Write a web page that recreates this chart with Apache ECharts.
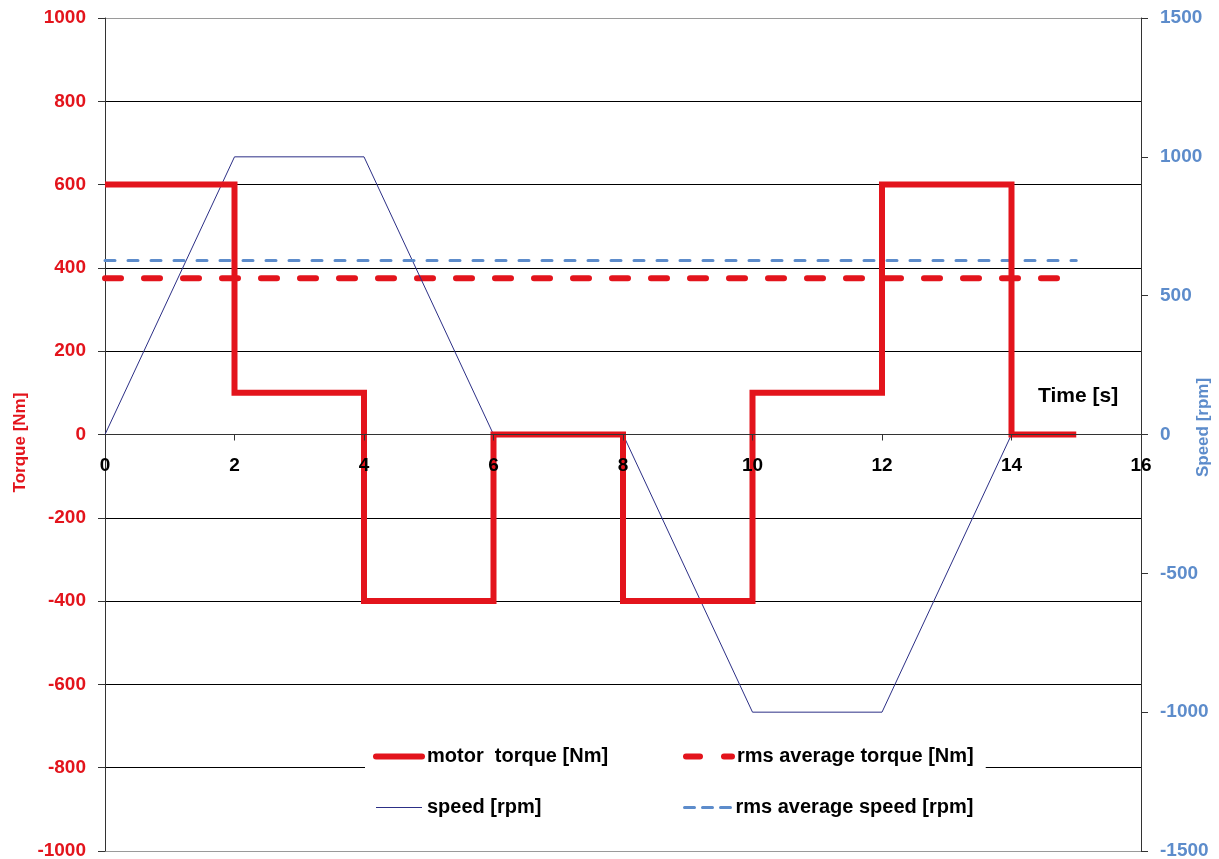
<!DOCTYPE html>
<html>
<head>
<meta charset="utf-8">
<script src="https://cdn.jsdelivr.net/npm/echarts@6/dist/echarts.min.js"></script>
<style>html,body{margin:0;padding:0;background:#fff}#c{width:1219px;height:859px}</style>
</head>
<body>
<div id="c"></div>
<script>
// Time breakpoints [s] and motor torque held from each breakpoint [Nm]
const torqueTime = [0, 2, 4, 6, 8, 10, 12, 14, 15];
const torqueValues = [600, 100, -400, 0, -400, 100, 600, 0, 0];
// Speed profile [rpm]
const speedTime = [0, 2, 4, 6, 8, 10, 12, 14];
const speedValues = [0, 1000, 1000, 0, 0, -1000, -1000, 0];
// RMS averages
const rmsTime = [0, 15];
const rmsTorque = 375;
const rmsSpeed = 627;
// Axes
const xTicks = {min: 0, max: 16, interval: 2};
const torqueAxis = {min: -1000, max: 1000, interval: 200};
const speedAxis = {min: -1500, max: 1500, interval: 500};
const seriesNames = ['motor  torque [Nm]', 'rms average torque [Nm]', 'speed [rpm]', 'rms average speed [rpm]'];

const FONT = '"Liberation Sans", Arial, sans-serif';
const RED = '#e3141c';
const BLUE = '#5d8ccb';
const NAVY = '#2c2f86';

const GRID_TOP = 18, GRID_BOTTOM = 8, H = 859;
const plotH = H - GRID_TOP - GRID_BOTTOM;
// x-axis crosses at torque = 0: shift the bottom axis up to the zero line
const zeroShift = plotH * (0 - torqueAxis.min) / (torqueAxis.max - torqueAxis.min);

const chart = echarts.init(document.getElementById('c'), null, {renderer: 'canvas'});
const gridColors = [];
for (let v = torqueAxis.min; v <= torqueAxis.max; v += torqueAxis.interval) {
  gridColors.push((v === torqueAxis.min || v === torqueAxis.max) ? '#9a9a9a' : '#000');
}
const plain = v => String(v);

const torqueStyle = {color: RED, width: 6, cap: 'butt', join: 'miter'};
const rmsTorqueStyle = {color: RED, width: 6, type: [16, 23], cap: 'round'};
const speedStyle = {color: NAVY, width: 1};
const rmsSpeedStyle = {color: BLUE, width: 3, type: [10, 13], cap: 'round'};

chart.setOption({
  backgroundColor: '#fff',
  animation: false,
  grid: {left: 105, right: 78, top: GRID_TOP, bottom: GRID_BOTTOM, containLabel: false, outerBoundsMode: 'none'},
  legend: {
    data: [
      {name: seriesNames[0], itemStyle: {opacity: 0}, lineStyle: {color: RED, width: 6, cap: 'round'}},
      {name: seriesNames[1], itemStyle: {opacity: 0}, lineStyle: {color: RED, width: 6, type: [14, 24], cap: 'round'}},
      {name: seriesNames[2], itemStyle: {opacity: 0}, lineStyle: {color: NAVY, width: 1}},
      {name: seriesNames[3], itemStyle: {opacity: 0}, lineStyle: {color: BLUE, width: 3, type: [10, 8]}}
    ],
    left: 365, top: 736,
    width: 620,
    padding: [5, 12, 4, 8],
    backgroundColor: '#fff',
    itemWidth: 46, itemHeight: 14, itemGap: 20,
    textStyle: {fontFamily: FONT, fontWeight: 'bold', fontSize: 20, color: '#000', width: 236, overflow: 'none', lineHeight: 31}
  },
  xAxis: {
    type: 'value', min: xTicks.min, max: xTicks.max, interval: xTicks.interval,
    position: 'bottom', offset: -zeroShift, z: 10,
    axisLine: {show: true, onZero: false, lineStyle: {color: '#333', width: 1}},
    axisTick: {show: true, length: 6, lineStyle: {color: '#333'}},
    axisLabel: {show: true, fontFamily: FONT, fontWeight: 'bold', fontSize: 19, color: '#000', margin: 22, formatter: plain},
    splitLine: {show: false}
  },
  yAxis: [
    {
      type: 'value', min: torqueAxis.min, max: torqueAxis.max, interval: torqueAxis.interval,
      position: 'left',
      name: 'Torque [Nm]', nameLocation: 'middle', nameGap: 76, nameRotate: 90, nameMoveOverlap: false,
      nameTextStyle: {fontFamily: FONT, fontWeight: 'bold', fontSize: 17, color: RED, padding: [0, 16, 0, 0]},
      axisLine: {show: true, lineStyle: {color: '#333'}},
      axisTick: {show: true, length: 7, lineStyle: {color: '#333'}},
      axisLabel: {fontFamily: FONT, fontWeight: 'bold', fontSize: 19, color: RED, margin: 19, formatter: plain},
      splitLine: {show: true, lineStyle: {color: gridColors, width: 1}}
    },
    {
      type: 'value', min: speedAxis.min, max: speedAxis.max, interval: speedAxis.interval,
      position: 'right',
      name: 'Speed [rpm]', nameLocation: 'middle', nameGap: 54, nameRotate: 90, nameMoveOverlap: false,
      nameTextStyle: {fontFamily: FONT, fontWeight: 'bold', fontSize: 17, color: BLUE, padding: [0, 0, 0, 14]},
      axisLine: {show: true, lineStyle: {color: '#333'}},
      axisTick: {show: true, length: 7, lineStyle: {color: '#333'}},
      axisLabel: {fontFamily: FONT, fontWeight: 'bold', fontSize: 19, color: BLUE, margin: 19, formatter: plain},
      splitLine: {show: false}
    }
  ],
  graphic: [{
    type: 'text', left: 1038, top: 386,
    style: {text: 'Time [s]', font: 'bold 21px ' + FONT, fill: '#000'}
  }],
  series: [
    {
      name: seriesNames[0], type: 'line', step: 'end', yAxisIndex: 0,
      symbol: 'none', showSymbol: false, z: 4,
      data: torqueTime.map((t, i) => [t, torqueValues[i]]),
      lineStyle: torqueStyle, itemStyle: {color: RED}
    },
    {
      name: seriesNames[1], type: 'line', yAxisIndex: 0,
      symbol: 'none', showSymbol: false, z: 3,
      data: rmsTime.map(t => [t, rmsTorque]),
      lineStyle: rmsTorqueStyle, itemStyle: {color: RED}
    },
    {
      name: seriesNames[2], type: 'line', yAxisIndex: 1,
      symbol: 'none', showSymbol: false, z: 3,
      data: speedTime.map((t, i) => [t, speedValues[i]]),
      lineStyle: speedStyle, itemStyle: {color: NAVY}
    },
    {
      name: seriesNames[3], type: 'line', yAxisIndex: 1,
      symbol: 'none', showSymbol: false, z: 3,
      data: rmsTime.map(t => [t, rmsSpeed]),
      lineStyle: rmsSpeedStyle, itemStyle: {color: BLUE}
    }
  ]
});
</script>
</body>
</html>
